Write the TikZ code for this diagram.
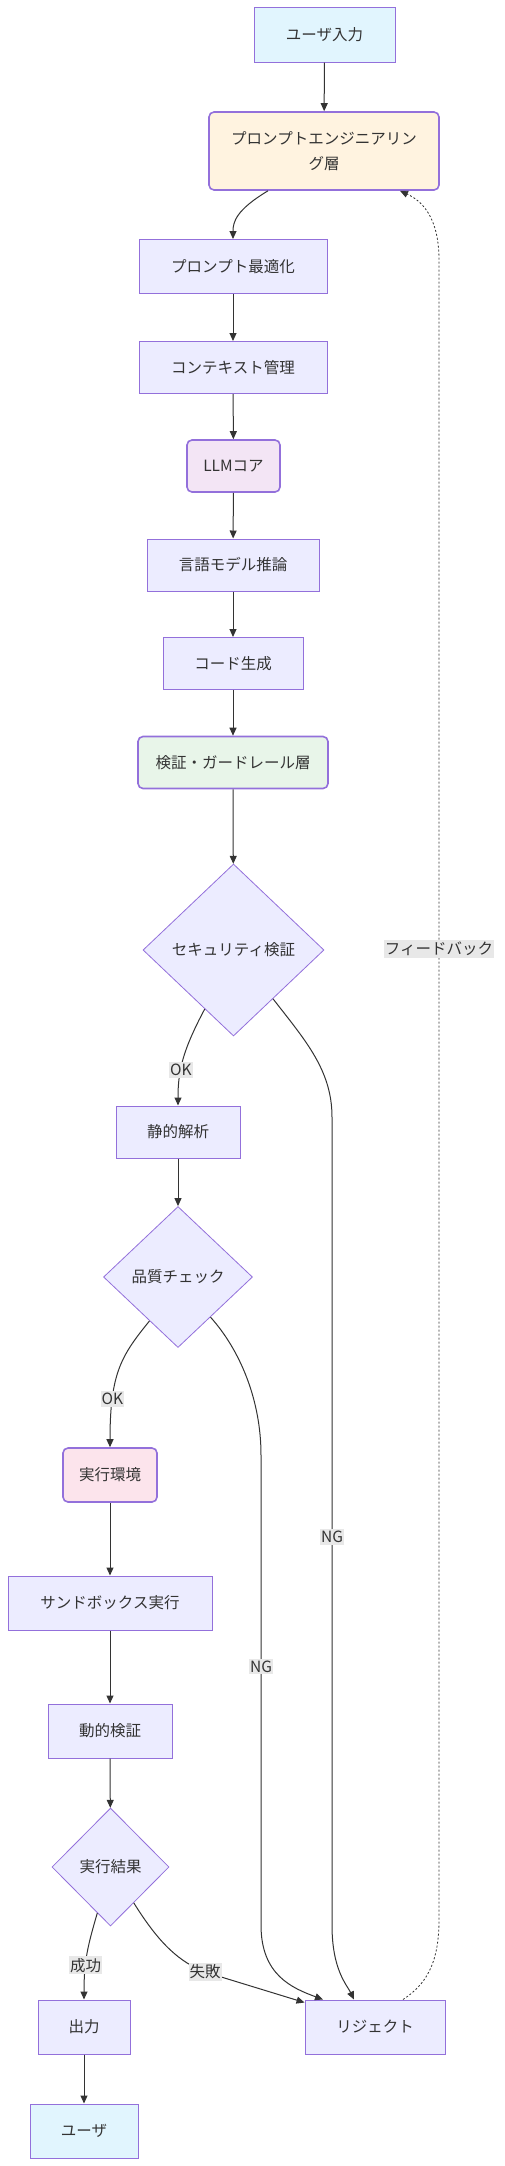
\documentclass[tikz,border=0pt]{standalone}
\usepackage{fontspec}
\setmainfont{Noto Sans CJK JP}
\usepackage{tikz}
\usetikzlibrary{shapes.geometric,arrows.meta}

\definecolor{nodefill}{HTML}{ECECFF}
\definecolor{nodeline}{HTML}{9370DB}
\definecolor{edgegray}{HTML}{333333}
\definecolor{lblbg}{HTML}{E8E8E8}
\definecolor{userfill}{HTML}{E1F5FE}
\definecolor{promptfill}{HTML}{FFF3E0}
\definecolor{llmfill}{HTML}{F3E5F5}
\definecolor{guardfill}{HTML}{E8F5E9}
\definecolor{envfill}{HTML}{FCE4EC}

\begin{document}
\begin{tikzpicture}[
    x=1pt, y=-1pt,
    every node/.style={font=\fontsize{15.5}{19}\selectfont, text=edgegray},
    box/.style={rectangle, draw=nodeline, fill=nodefill, line width=1pt, inner sep=0pt},
    rbox/.style={box, rounded corners=5pt, line width=1.6pt},
    dec/.style={diamond, draw=nodeline, fill=nodefill, line width=0.8pt, inner sep=0pt, aspect=1},
    elabel/.style={fill=lblbg, inner xsep=1pt, inner ysep=2pt},
    arrow/.style={-{Triangle[length=8pt,width=7pt]}, draw=edgegray, line width=1pt},
    fb/.style={arrow, dash pattern=on 2pt off 2pt, line width=0.8pt}
]
\useasboundingbox (0,0) rectangle (504,2166);

% Nodes
\node (inp)     [box, fill=userfill, minimum width=141pt, minimum height=55pt] at (324.5,34.5) {ユーザ入力};
\node (peng)    [rbox, fill=promptfill, minimum width=230pt, minimum height=78pt, align=center, font=\fontsize{15.5}{25}\selectfont] at (324,151) {プロンプトエンジニアリン\\グ層};
\node (popt)    [box, minimum width=188pt, minimum height=54pt] at (233,266.5) {プロンプト最適化};
\node (ctx)     [box, minimum width=188pt, minimum height=52pt] at (233,367.5) {コンテキスト管理};
\node (llm)     [rbox, fill=llmfill, minimum width=93pt, minimum height=52pt] at (233.5,466) {LLMコア};
\node (infer)   [box, minimum width=172pt, minimum height=52pt] at (233,565) {言語モデル推論};
\node (gen)     [box, minimum width=140pt, minimum height=52pt] at (233,663.5) {コード生成};
\node (guard)   [rbox, fill=guardfill, minimum width=190pt, minimum height=52pt] at (233,762.5) {検証・ガードレール層};
\node (sec)     [dec, minimum width=181pt, minimum height=172pt] at (233.5,950) {セキュリティ検証};
\node (static)  [box, minimum width=124pt, minimum height=52pt] at (178,1132) {静的解析};
\node (qual)    [dec, minimum width=149pt, minimum height=141pt] at (178,1277) {品質チェック};
\node (env)     [rbox, fill=envfill, minimum width=94pt, minimum height=54pt] at (110,1475) {実行環境};
\node (sandbox) [box, minimum width=204pt, minimum height=54pt] at (110,1603) {サンドボックス実行};
\node (dyn)     [box, minimum width=124pt, minimum height=54pt] at (110,1731) {動的検証};
\node (res)     [dec, minimum width=117pt, minimum height=118pt] at (110.5,1867) {実行結果};
\node (out)     [box, minimum width=92pt, minimum height=54pt] at (84,2027) {出力};
\node (user)    [box, fill=userfill, minimum width=108pt, minimum height=54pt] at (84,2131) {ユーザ};
\node (rej)     [box, minimum width=140pt, minimum height=54pt] at (375,2027) {リジェクト};

% Arrows
\draw[arrow] (inp) -- (peng);
\draw[arrow] ([xshift=-56pt]peng.south) .. controls (236,210) and (233,222) .. (popt.north);
\draw[arrow] (popt) -- (ctx);
\draw[arrow] (ctx) -- (llm);
\draw[arrow] (llm) -- (infer);
\draw[arrow] (infer) -- (gen);
\draw[arrow] (gen) -- (guard);
\draw[arrow] (guard) -- (sec);
\draw[arrow] (sec.244) .. controls (183,1050) and (178,1070) .. node[elabel, pos=0.62] (lok1) {OK} (static.north);
\draw[arrow] (static) -- (qual);
\draw[arrow] (qual.237) .. controls (122,1355) and (110,1372) .. node[elabel, pos=0.74] (lok2) {OK} (env.north);
\draw[arrow] (env) -- (sandbox);
\draw[arrow] (sandbox) -- (dyn);
\draw[arrow] (dyn) -- (res);
\draw[arrow] (res.254) .. controls (88,1945) and (84,1960) .. node[elabel, pos=0.65] (lsucc) {成功} (out.north);
\draw[arrow] (out) -- (user);
\draw[arrow] (res.303) .. controls (160,1945) and (180,1962) .. (205,1972) node[elabel] (lfail) {失敗} -- ([yshift=-3pt]rej.north west);

% NG paths
\draw[arrow] (sec.309) .. controls (305,1040) and (332,1070) .. (332,1117) -- node[elabel, pos=0.52] (lng1) {NG} (332,1925) .. controls (332,1970) and (347,1985) .. ([xshift=-21pt]rej.north);
\draw[arrow] (qual.309) .. controls (240,1350) and (261,1400) .. (261,1455) -- node[elabel, pos=0.45] (lng2) {NG} (261,1925) .. controls (261,1975) and (292,1988) .. ([xshift=-52pt]rej.north);

% Feedback
\draw[fb] ([xshift=28pt]rej.north) .. controls (425,1985) and (439,1965) .. (439,1920) -- node[elabel, pos=0.585] (lfb) {フィードバック} (439,260) .. controls (439,215) and (420,200) .. ([xshift=76pt]peng.south);

\end{tikzpicture}
\end{document}
